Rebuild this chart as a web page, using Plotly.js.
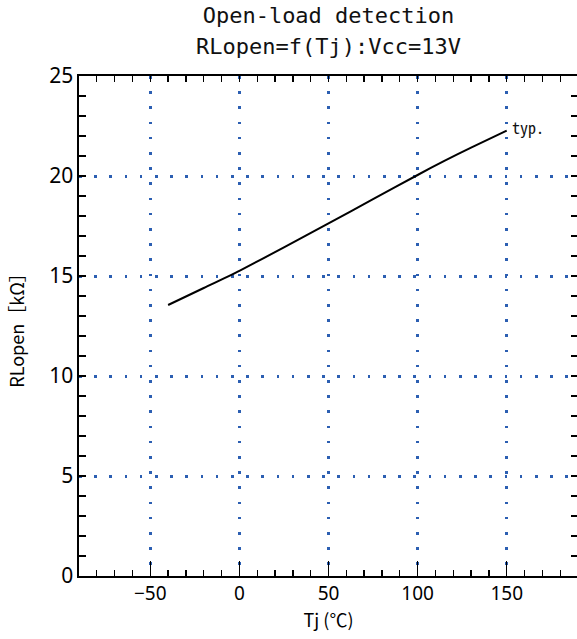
<!DOCTYPE html>
<html>
<head>
<meta charset="utf-8">
<script src="https://cdn.plot.ly/plotly-3.0.1.min.js"></script>
<style>
html,body{margin:0;padding:0;overflow:hidden;background:#fff;}
#chart{width:578px;height:639px;}
</style>
</head>
<body>
<div id="chart"></div>
<script>
// Data
const tj = [-40, -20, 0, 25, 50, 75, 100, 115, 130, 150];          // Tj (°C)
const rlopen = [13.55, 14.4, 15.26, 16.43, 17.63, 18.84, 20.05, 20.76, 21.42, 22.27]; // RLopen (kΩ)
const seriesLabel = "typ.";
const titleLine1 = "Open-load detection";
const titleLine2 = "RLopen=f(Tj):Vcc=13V";
const xTitle = "Tj (℃)";
const yTitle = "RLopen［kΩ］";
const xTickVals = [-50, 0, 50, 100, 150];
const yTickVals = [0, 5, 10, 15, 20, 25];

const titleFont = '"DejaVu Sans Mono", "Liberation Mono", monospace';
const monoFont = '"Noto Sans Mono CJK JP", "DejaVu Sans Mono", monospace';
const cjkFont = '"Noto Sans CJK JP", "Noto Sans", sans-serif';
const tickFont = '"Noto Sans", "Open Sans", sans-serif';
const gridColor = '#2c5fb2';

const trace = {
  x: tj, y: rlopen, type: 'scatter', mode: 'lines',
  line: {color: '#000', width: 2, shape: 'spline', smoothing: 0.5}, showlegend: false, hoverinfo: 'skip'
};

const layout = {
  width: 578, height: 639,
  margin: {l: 79, r: 0, t: 76, b: 63},
  paper_bgcolor: '#fff', plot_bgcolor: '#fff',
  showlegend: false,
  title: {
    text: titleLine1, xref: 'paper', x: 0.5, xanchor: 'center',
    yref: 'container', y: 1 - 8/639, yanchor: 'top',
    font: {family: titleFont, size: 22, color: '#111'}
  },
  xaxis: {
    range: [-90, 190], tickvals: xTickVals, ticktext: xTickVals.map(v => v < 0 ? '−' + Math.abs(v) : String(v)),
    ticks: 'inside', ticklen: 6, tickwidth: 1.3, tickcolor: '#000',
    showline: true, linecolor: '#000', linewidth: 1.6, mirror: 'ticks',
    showgrid: true, gridcolor: gridColor, gridwidth: 3, griddash: '2.5px,12.7px',
    zeroline: false,
    minor: {dtick: 10, tick0: 0, ticks: 'inside', ticklen: 6, tickwidth: 1.3, tickcolor: '#000', showgrid: false},
    tickfont: {family: tickFont, size: 19, color: '#000'},
    title: {text: xTitle, font: {family: cjkFont, size: 18, color: '#000'}, standoff: 6},
    fixedrange: true
  },
  xaxis2: {
    overlaying: 'x', anchor: 'y', side: 'bottom', range: [-90, 190],
    tickvals: xTickVals, ticks: 'inside', ticklen: 15, tickwidth: 1.3, tickcolor: '#000',
    showticklabels: false, showgrid: false, zeroline: false, showline: false
  },
  yaxis: {
    range: [0, 25], tickvals: yTickVals,
    ticks: 'inside', ticklen: 7, tickwidth: 1.3, tickcolor: '#000',
    showline: true, linecolor: '#000', linewidth: 1.6, mirror: 'ticks',
    showgrid: true, gridcolor: gridColor, gridwidth: 3, griddash: '2.5px,12.7px',
    zeroline: false,
    minor: {dtick: 1, tick0: 0, ticks: 'inside', ticklen: 7, tickwidth: 1.3, tickcolor: '#000', showgrid: false},
    tickfont: {family: tickFont, size: 21, color: '#000'},
    title: {text: yTitle, font: {family: cjkFont, size: 18, color: '#000'}, standoff: 20},
    fixedrange: true
  },
  annotations: [
    {
      text: titleLine2, xref: 'paper', yref: 'paper', x: 0.5, y: 1, xanchor: 'center', yanchor: 'bottom',
      yshift: 15, showarrow: false, font: {family: titleFont, size: 22, color: '#111'}
    },
    {
      text: seriesLabel, xref: 'x', yref: 'y', x: tj[tj.length - 1], y: rlopen[rlopen.length - 1],
      xanchor: 'left', yanchor: 'middle', xshift: 3, yshift: 4, showarrow: false,
      font: {family: monoFont, size: 16, color: '#111'}
    }
  ]
};

const trace2 = {x: [], y: [], xaxis: 'x2', yaxis: 'y', type: 'scatter', showlegend: false, hoverinfo: 'skip'};

Plotly.newPlot('chart', [trace, trace2], layout, {displayModeBar: false, staticPlot: true});
</script>
</body>
</html>
